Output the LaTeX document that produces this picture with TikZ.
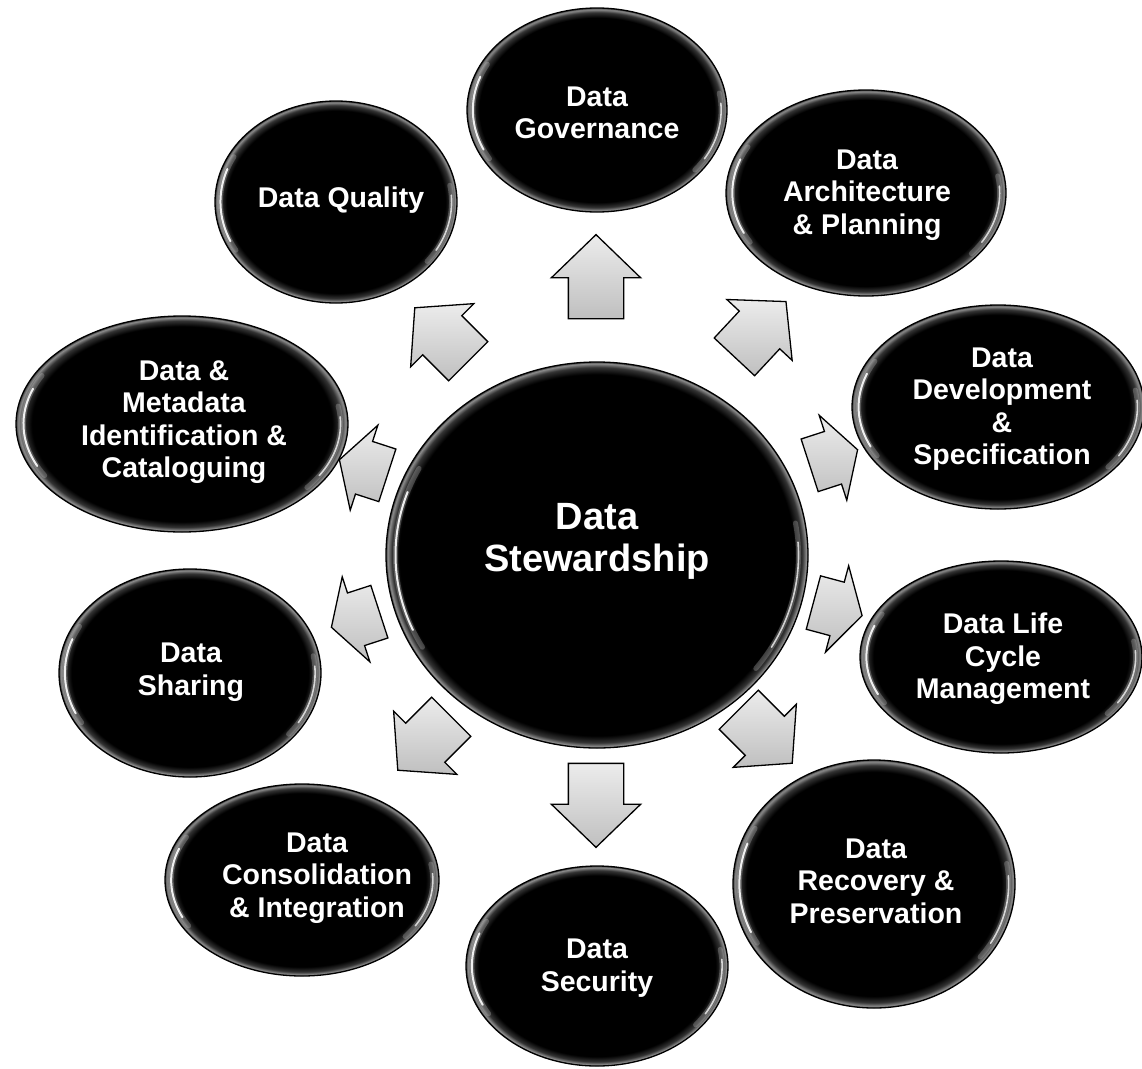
\documentclass[tikz,border=0pt]{standalone}
\usepackage{fontspec}
\setmainfont{Liberation Sans}
\usetikzlibrary{shapes.geometric,shapes.arrows}
\pgfdeclareradialshading{rimsmall}{\pgfpointorigin}{color(0bp)=(black); color(22.6bp)=(black); color(23.9bp)=(black!80); color(24.65bp)=(black!45); color(25bp)=(black!75); color(26bp)=(black); color(50bp)=(black)}
\pgfdeclareradialshading{rimbig}{\pgfpointorigin}{color(0bp)=(black); color(23.4bp)=(black); color(24.3bp)=(black!80); color(24.8bp)=(black!45); color(25bp)=(black!75); color(26bp)=(black); color(50bp)=(black)}
% #1 name, #2 cx, #3 cy, #4 rx, #5 ry, #6 tx, #7 ty, #8 label style, #9 text
\newcommand\glossbubble[9]{%
  \node[bubble, minimum width={2*#4}, minimum height={2*#5}] (#1) at (#2,#3) {};
  \begin{scope}[shift={(#2,#3)}, xscale=#4, yscale=#5]
    \draw[halo] (150:0.955) arc[start angle=150, end angle=208, radius=0.955];
    \draw[hilite] (156:0.955) arc[start angle=156, end angle=200, radius=0.955];
    \draw[halo] (-10:0.955) arc[start angle=-10, end angle=38, radius=0.955];
    \draw[hilite2] (-4:0.955) arc[start angle=-4, end angle=30, radius=0.955];
  \end{scope}
  \node[#8] (#1t) at (#6,#7) {#9};
}
\begin{document}
\begin{tikzpicture}[x=1pt,y=-1pt,
  bubble/.style={ellipse, shading=rimsmall, draw=black, line width=1.3pt, inner sep=0pt},
  lbl/.style={text=white, font=\bfseries\fontsize{28.5}{32.5}\selectfont, align=center, inner sep=0pt},
  biglbl/.style={text=white, font=\bfseries\fontsize{38}{42}\selectfont, align=center, inner sep=0pt},
  hilite/.style={draw=white, line width=2pt, line cap=round, opacity=.9},
  hilite2/.style={draw=white, line width=1.6pt, line cap=round, opacity=.75},
  halo/.style={draw=white, line width=5pt, opacity=.22, line cap=round},
  blockarrow/.style={single arrow, draw=black, line width=1.3pt, inner xsep=0pt, inner ysep=27pt,
     minimum height=84pt, single arrow head extend=17pt,
     single arrow tip angle=92, top color=gray!15, bottom color=gray!50}
]
\useasboundingbox (0,0) rectangle (1142,1068);
\fill[white] (0,0) rectangle (1142,1068);

% arrows
\node[blockarrow, rotate=90] (agov) at (596,290) {};
\node[blockarrow, rotate=47, xscale=0.9] (aarch) at (752,338) {};
\node[blockarrow, rotate=18, xscale=0.6] (adev) at (826,460) {};
\node[blockarrow, rotate=-15, xscale=0.6] (alife) at (830,607) {};
\node[blockarrow, rotate=-45, xscale=0.9] (arec) at (757,728) {};
\node[blockarrow, rotate=-90] (asec) at (596,792) {};
\node[blockarrow, rotate=-135, xscale=0.9] (acons) at (433,735) {};
\node[blockarrow, rotate=198, xscale=0.6] (ashar) at (363,617) {};
\node[blockarrow, rotate=162, xscale=0.6] (ameta) at (371,470) {};
\node[blockarrow, rotate=135, xscale=0.9] (aqual) at (450,343) {};

% bubbles
\begin{scope}[bubble/.append style={shading=rimbig}]
\glossbubble{center}{597}{555}{211}{193}{597}{541}{biglbl}{Data\\Stewardship}
\end{scope}
\glossbubble{gov}{597}{110}{130}{102}{597}{113}{lbl}{Data\\Governance}
\glossbubble{qual}{336}{202}{121}{101}{341}{200}{lbl}{Data Quality}
\glossbubble{arch}{866}{193}{140}{103}{867}{195}{lbl}{Data\\Architecture\\\& Planning}
\glossbubble{meta}{182}{424}{166}{108}{184}{422}{lbl}{Data \&\\Metadata\\Identification \&\\Cataloguing}
\glossbubble{dev}{998}{407}{146}{102}{1002}{409}{lbl}{Data\\Development\\\&\\Specification}
\glossbubble{shar}{190}{673}{131}{104}{191}{672}{lbl}{Data\\Sharing}
\glossbubble{life}{1001}{657}{141}{96}{1003}{659}{lbl}{Data Life\\Cycle\\Management}
\glossbubble{cons}{302}{880}{137}{96}{317}{878}{lbl}{Data\\Consolidation\\\& Integration}
\glossbubble{sec}{597}{966}{131}{100}{597}{968}{lbl}{Data\\Security}
\glossbubble{rec}{874}{884}{141}{124}{876}{881}{lbl}{Data\\Recovery \&\\Preservation}
\end{tikzpicture}
\end{document}
